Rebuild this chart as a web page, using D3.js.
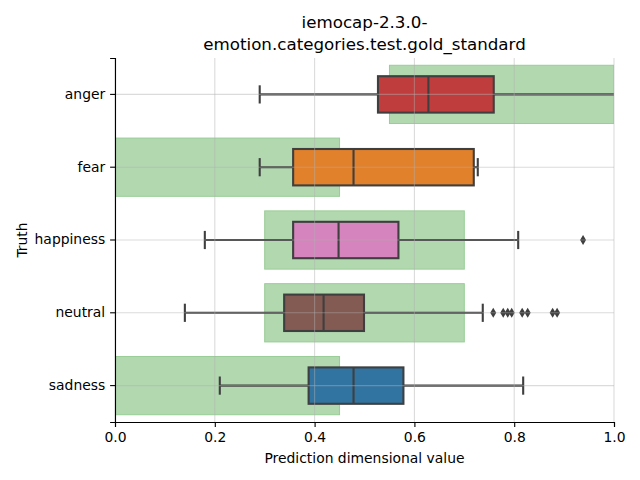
<!DOCTYPE html>
<html><head><meta charset="utf-8">
<script src="https://cdn.jsdelivr.net/npm/d3@7"></script>
<style>body{margin:0;background:#fff}svg text{font-family:"DejaVu Sans",sans-serif}</style>
</head><body><div id="chart"></div>
<script>
const categories = ["anger", "fear", "happiness", "neutral", "sadness"];
const whiskerLow = [0.29, 0.29, 0.18, 0.14, 0.21];
const q1 = [0.527, 0.357, 0.357, 0.339, 0.388];
const median = [0.628, 0.478, 0.448, 0.418, 0.478];
const q3 = [0.759, 0.719, 0.568, 0.499, 0.578];
const whiskerHigh = [1.05, 0.727, 0.808, 0.737, 0.818];
const outliers = [[], [], [0.938], [0.758, 0.778, 0.787, 0.795, 0.816, 0.827, 0.877, 0.886], []];
const colors = ["#c03d3e", "#e1812c", "#d684bd", "#845b53", "#3274a1"];
const goldLow = [0.55, 0.0, 0.3, 0.3, 0.0];
const goldHigh = [1.0, 0.45, 0.7, 0.7, 0.45];
const xTicks = [0, 0.2, 0.4, 0.6, 0.8, 1.0];

const W = 640, H = 480, m = {l: 115, r: 26, t: 58, b: 58};
const svg = d3.select("#chart").append("svg").attr("width", W).attr("height", H);
const x = d3.scaleLinear().domain([0, 1]).range([m.l, W - m.r]);
const y = d3.scaleBand().domain(categories).range([m.t, H - m.b]).padding(0);
const bw = y.bandwidth();
svg.append("defs").append("clipPath").attr("id", "clip")
  .append("rect").attr("x", m.l).attr("y", m.t).attr("width", x(1) - m.l).attr("height", H - m.b - m.t);

const g = svg.append("g").attr("clip-path", "url(#clip)");
const gray = "#3f3f3f", lw = 2.1;
// gold standard bands
categories.forEach((c, i) => {
  g.append("rect").attr("x", x(goldLow[i])).attr("width", x(goldHigh[i]) - x(goldLow[i]))
    .attr("y", y(c) + bw * 0.1).attr("height", bw * 0.8)
    .attr("fill", "#b2d8b0").attr("stroke", "#98cd95").attr("stroke-width", 1);
});
// boxes
categories.forEach((c, i) => {
  const cy = y(c) + bw / 2, bh = bw * 0.5, cap = bh / 2;
  g.append("line").attr("x1", x(whiskerLow[i])).attr("x2", x(q1[i])).attr("y1", cy).attr("y2", cy).attr("stroke", gray).attr("stroke-width", lw);
  g.append("line").attr("x1", x(q3[i])).attr("x2", x(whiskerHigh[i])).attr("y1", cy).attr("y2", cy).attr("stroke", gray).attr("stroke-width", lw);
  [whiskerLow[i], whiskerHigh[i]].forEach(v => g.append("line").attr("x1", x(v)).attr("x2", x(v))
    .attr("y1", cy - cap / 2).attr("y2", cy + cap / 2).attr("stroke", gray).attr("stroke-width", lw));
  g.append("rect").attr("x", x(q1[i])).attr("width", x(q3[i]) - x(q1[i])).attr("y", cy - bh / 2).attr("height", bh)
    .attr("fill", colors[i]).attr("stroke", gray).attr("stroke-width", lw);
  g.append("line").attr("x1", x(median[i])).attr("x2", x(median[i])).attr("y1", cy - bh / 2).attr("y2", cy + bh / 2)
    .attr("stroke", gray).attr("stroke-width", lw);
  outliers[i].forEach(v => g.append("path")
    .attr("d", `M${x(v)},${cy - 5}L${x(v) + 3},${cy}L${x(v)},${cy + 5}L${x(v) - 3},${cy}Z`).attr("fill", gray));
});
// grid on top
const grid = svg.append("g");
xTicks.forEach(t => grid.append("line").attr("x1", x(t)).attr("x2", x(t)).attr("y1", m.t).attr("y2", H - m.b)
  .attr("stroke", "#b0b0b0").attr("stroke-opacity", 0.45).attr("stroke-width", 1.1));
categories.forEach(c => grid.append("line").attr("x1", m.l).attr("x2", x(1)).attr("y1", y(c) + bw / 2).attr("y2", y(c) + bw / 2)
  .attr("stroke", "#b0b0b0").attr("stroke-opacity", 0.45).attr("stroke-width", 1.1));

// axes
const xa = svg.append("g").attr("transform", `translate(0,${H - m.b})`)
  .call(d3.axisBottom(x).tickValues(xTicks).tickFormat(d3.format(".1f")).tickSizeOuter(0).tickSize(4.9).tickPadding(4.9));
const ya = svg.append("g").attr("transform", `translate(${m.l},0)`)
  .call(d3.axisLeft(y).tickSizeOuter(0).tickSize(4.9).tickPadding(4.9));
[xa, ya].forEach(a => { a.selectAll("text").attr("font-size", 13.9).attr("fill", "#000").style("font-family", "DejaVu Sans");
  a.selectAll("line").attr("stroke", "#000").attr("stroke-width", 1.1);
  a.select(".domain").attr("stroke", "#000").attr("stroke-width", 1.1); });

svg.append("text").attr("x", x(0.5)).attr("y", 463).attr("text-anchor", "middle").attr("font-size", 13.9).text("Prediction dimensional value");
svg.append("text").attr("transform", `translate(27,${(m.t + H - m.b) / 2}) rotate(-90)`).attr("text-anchor", "middle").attr("font-size", 13.9).text("Truth");
svg.append("text").attr("x", x(0.5)).attr("y", 28).attr("text-anchor", "middle").attr("font-size", 16.7).text("iemocap-2.3.0-");
svg.append("text").attr("x", x(0.5)).attr("y", 50).attr("text-anchor", "middle").attr("font-size", 16.7).text("emotion.categories.test.gold_standard");
</script></body></html>
